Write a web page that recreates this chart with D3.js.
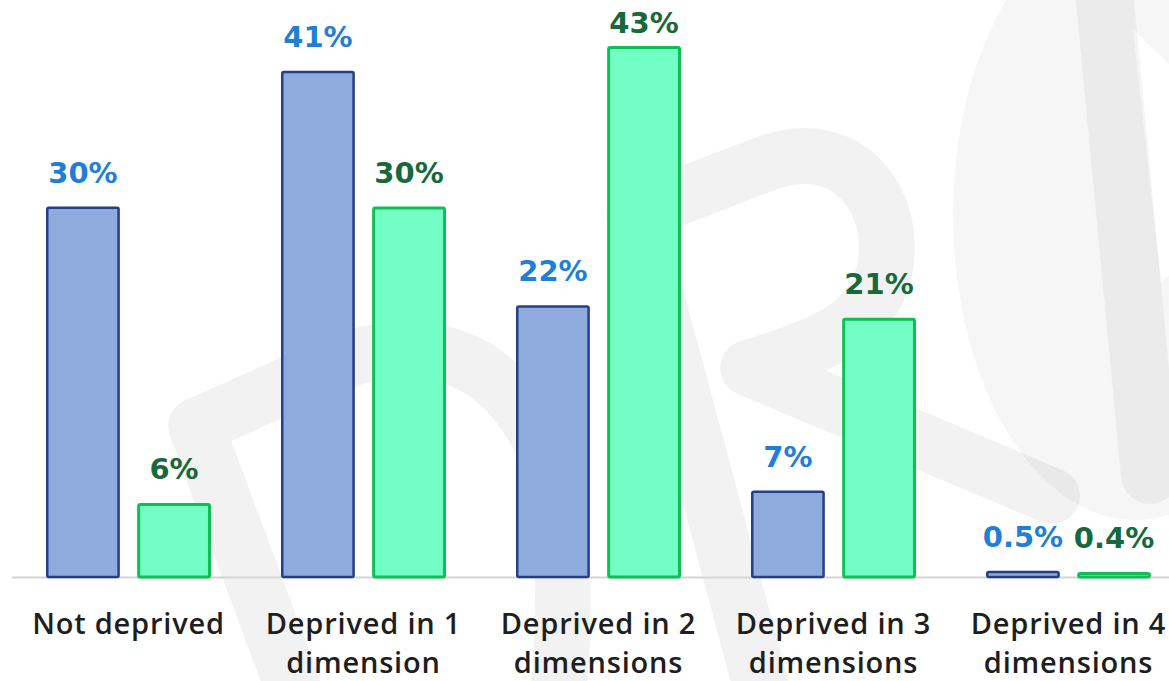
<!DOCTYPE html>
<html>
<head>
<meta charset="utf-8">
<script src="https://cdn.jsdelivr.net/npm/d3@7"></script>
<style>
  html, body { margin: 0; padding: 0; background: #ffffff; overflow: hidden; }
  svg { display: block; }
</style>
</head>
<body>
<svg id="chart" width="1169" height="681"></svg>
<script>
// Deprivation categories and the two series shown for each
const categories = [
  ["Not deprived"],
  ["Deprived in 1", "dimension"],
  ["Deprived in 2", "dimensions"],
  ["Deprived in 3", "dimensions"],
  ["Deprived in 4", "dimensions"]
];
const seriesNames = ["seriesA", "seriesB"];
const seriesA = [30, 41, 22, 7, 0.5];
const seriesB = [6, 30, 43, 21, 0.4];
const valueLabelsA = ["30%", "41%", "22%", "7%", "0.5%"];
const valueLabelsB = ["6%", "30%", "43%", "21%", "0.4%"];

const W = 1169, H = 681;
const svg = d3.select("#chart");

// Faint background watermark (translucent so overlaps darken slightly)
const mark = svg.append("g");
mark.append("ellipse")
  .attr("cx", 1135).attr("cy", 215).attr("rx", 182).attr("ry", 305)
  .attr("fill", "#000").attr("fill-opacity", 0.035);
mark.append("path")
  .attr("d", "M1133,29 L1175,70 L1175,270 L1161,282 Z")
  .attr("fill", "#fff");
const strokes = mark.append("g")
  .attr("fill", "none")
  .attr("stroke", "#000")
  .attr("stroke-opacity", 0.052)
  .attr("stroke-width", 56)
  .attr("stroke-linecap", "round")
  .attr("stroke-linejoin", "round");
strokes.append("path")
  .attr("d", "M305,720 L196,426 L340,362 C430,330 500,360 540,440 C565,500 568,600 556,720");
strokes.append("path")
  .attr("d", "M770,720 L634,214 L770,162 C860,132 908,222 878,290 C858,335 800,352 748,368 L1052,496");
strokes.append("path")
  .attr("d", "M1102,-30 L1150,475")
  .attr("stroke-width", 58)
  .attr("stroke-opacity", 0.045);

const baseY = 577;
const y = d3.scaleLinear().domain([0, 10]).range([baseY, baseY - 123.5]);

const x0 = d3.scaleBand()
  .domain(d3.range(categories.length))
  .range([11, 1186])
  .paddingInner(0.298)
  .paddingOuter(0.149);

const x1 = d3.scaleBand()
  .domain(seriesNames)
  .range([0, x0.bandwidth()])
  .paddingInner(0.19);

const styles = {
  seriesA: { fill: "#8faadc", stroke: "#253f86", sw: 2.5, text: "#1f7fd6", values: seriesA, labels: valueLabelsA },
  seriesB: { fill: "#72fec4", stroke: "#0fbf55", sw: 3, text: "#17683a", values: seriesB, labels: valueLabelsB }
};

// Baseline
svg.append("line")
  .attr("x1", 12).attr("x2", W)
  .attr("y1", baseY + 0.5).attr("y2", baseY + 0.5)
  .attr("stroke", "#d4d4d4").attr("stroke-width", 2);

// Bars and value labels
seriesNames.forEach(name => {
  const s = styles[name];
  const g = svg.append("g");
  g.selectAll("rect")
    .data(s.values)
    .join("rect")
    .attr("x", (d, i) => x0(i) + x1(name) + s.sw / 2)
    .attr("width", x1.bandwidth() - s.sw)
    .attr("y", d => y(d) + s.sw / 2)
    .attr("height", d => Math.max(0, baseY - y(d) - s.sw / 2))
    .attr("fill", s.fill)
    .attr("stroke", s.stroke)
    .attr("stroke-width", s.sw)
    .attr("rx", 1.5);

  g.selectAll("text")
    .data(s.values)
    .join("text")
    .attr("x", (d, i) => x0(i) + x1(name) + x1.bandwidth() / 2)
    .attr("y", d => Math.max(33, y(d) - 24))
    .attr("text-anchor", "middle")
    .attr("font-family", "'DejaVu Sans', Verdana, sans-serif")
    .attr("font-weight", "bold")
    .attr("font-size", 29)
    .attr("fill", s.text)
    .text((d, i) => s.labels[i]);
});

// Category labels
const cat = svg.append("g")
  .attr("font-family", "'Open Sans', 'Noto Sans', sans-serif")
  .attr("font-size", 29)
  .attr("font-weight", 600)
  .attr("letter-spacing", 0.8)
  .attr("fill", "#1e1e1e")
  .attr("text-anchor", "middle");
categories.forEach((lines, i) => {
  const cx = x0(i) + x0.bandwidth() / 2;
  const t = cat.append("text").attr("x", cx).attr("y", 634);
  lines.forEach((ln, k) => {
    t.append("tspan")
      .attr("x", cx)
      .attr("dy", k === 0 ? 0 : 39)
      .text(ln);
  });
});
</script>
</body>
</html>
